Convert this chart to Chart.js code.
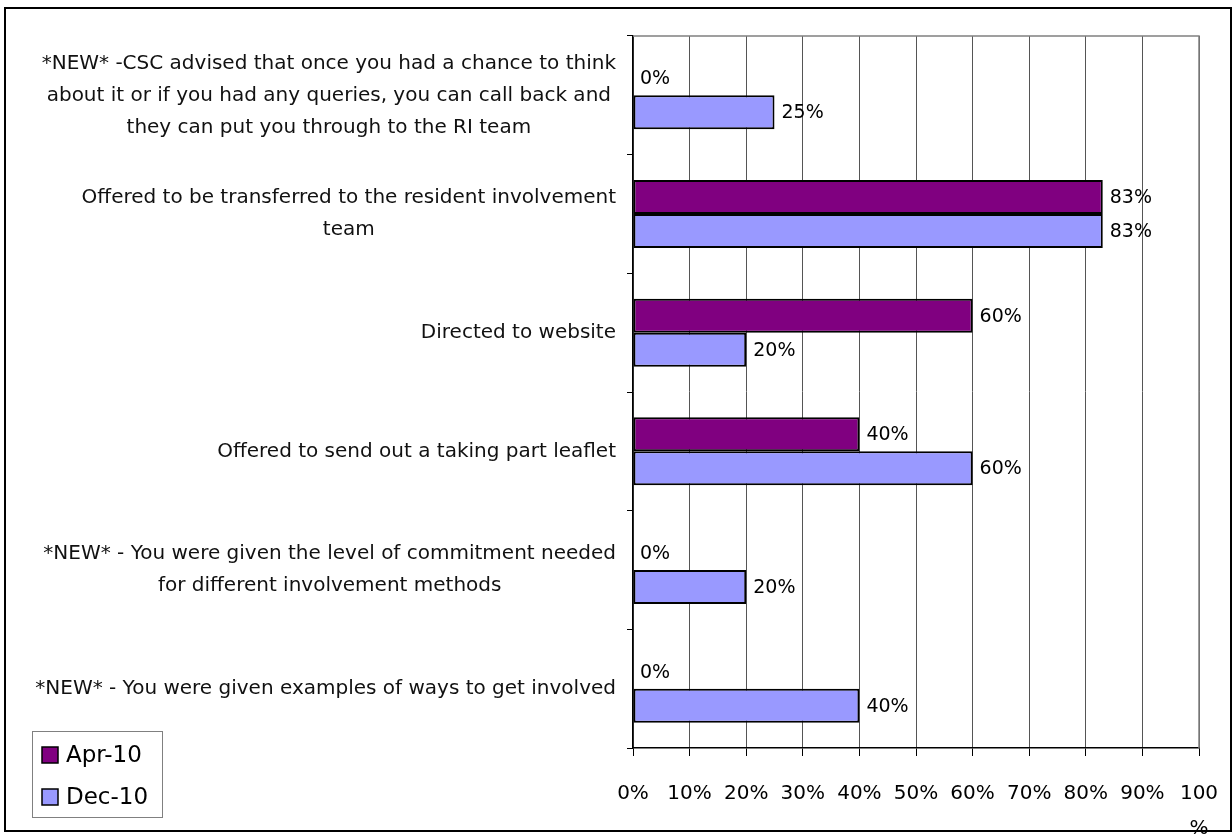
<!DOCTYPE html>
<html>
<head>
<meta charset="utf-8">
<script src="https://cdn.jsdelivr.net/npm/chart.js@4.4.1/dist/chart.umd.min.js"></script>
<style>
  html, body { margin: 0; padding: 0; background: #fff; }
  #wrap { width: 1232px; height: 836px; position: relative; }
</style>
</head>
<body>
<div id="wrap"><canvas id="riChart"></canvas></div>
<script>
var categoryLabels = [
  ['*NEW* -CSC advised that once you had a chance to think', 'about it or if you had any queries, you can call back and', 'they can put you through to the RI team'],
  ['Offered to be transferred to the resident involvement', 'team'],
  ['Directed to website'],
  ['Offered to send out a taking part leaflet'],
  ['*NEW* - You were given the level of commitment needed', 'for different involvement methods'],
  ['*NEW* - You were given examples of ways to get involved']
];
var seriesNames = ['Apr-10', 'Dec-10'];
var apr10Values = [0, 83, 60, 40, 0, 0];
var dec10Values = [25, 83, 20, 60, 20, 40];
var seriesColors = ['#800080', '#9999FF'];
var xTickStep = 10;

var FONT = '"DejaVu Sans", sans-serif';

// labels on the left: centred lines, block aligned right against the axis
var categoryLabelPlugin = {
  id: 'categoryLabels',
  afterDraw: function(chart) {
    var ctx = chart.ctx;
    var yScale = chart.scales.y;
    var rightEdge = 616;
    var lineGap = 32;
    ctx.save();
    ctx.font = '20px ' + FONT;
    ctx.fillStyle = '#111';
    ctx.textAlign = 'center';
    ctx.textBaseline = 'middle';
    categoryLabels.forEach(function(lines, i) {
      var cy = yScale.getPixelForValue(i);
      var blockWidth = 0;
      lines.forEach(function(line) {
        blockWidth = Math.max(blockWidth, ctx.measureText(line).width);
      });
      var cx = rightEdge - blockWidth / 2;
      var startY = cy - (lines.length - 1) * lineGap / 2;
      lines.forEach(function(line, j) {
        ctx.fillText(line, cx, startY + j * lineGap);
      });
    });
    ctx.restore();
  }
};

// value labels next to every bar end
var valueLabelPlugin = {
  id: 'valueLabels',
  afterDatasetsDraw: function(chart) {
    var ctx = chart.ctx;
    ctx.save();
    ctx.font = '19px ' + FONT;
    ctx.fillStyle = '#000';
    ctx.textAlign = 'left';
    ctx.textBaseline = 'middle';
    chart.data.datasets.forEach(function(dataset, d) {
      var meta = chart.getDatasetMeta(d);
      meta.data.forEach(function(bar, i) {
        ctx.fillText(dataset.data[i] + '%', bar.x + 7, bar.y + 1);
      });
    });
    ctx.restore();
  }
};

// plot frame, outer frame and boxed legend
var framePlugin = {
  id: 'frames',
  beforeDatasetsDraw: function(chart) {
    var ctx = chart.ctx;
    var area = chart.chartArea;
    ctx.save();
    ctx.strokeStyle = '#808080';
    ctx.lineWidth = 1.5;
    ctx.beginPath();
    ctx.moveTo(area.left, area.top);
    ctx.lineTo(area.right, area.top);
    ctx.lineTo(area.right, area.bottom);
    ctx.stroke();
    ctx.restore();
  },
  afterDraw: function(chart) {
    var ctx = chart.ctx;
    ctx.save();
    ctx.strokeStyle = '#000';
    ctx.lineWidth = 2;
    ctx.strokeRect(5, 8, 1226, 823);

    ctx.strokeStyle = '#808080';
    ctx.lineWidth = 1;
    ctx.strokeRect(32.5, 731.5, 130, 86);
    ctx.font = '23px ' + FONT;
    ctx.textAlign = 'left';
    ctx.textBaseline = 'middle';
    chart.data.datasets.forEach(function(dataset, d) {
      var y = 755 + d * 42;
      ctx.fillStyle = dataset.backgroundColor;
      ctx.fillRect(42, y - 8, 16, 16);
      ctx.strokeStyle = '#000';
      ctx.lineWidth = 1.5;
      ctx.strokeRect(42, y - 8, 16, 16);
      ctx.fillStyle = '#000';
      ctx.fillText(dataset.label, 66, y + 1);
    });
    ctx.restore();
  }
};

var ctx = document.getElementById('riChart').getContext('2d');
new Chart(ctx, {
  type: 'bar',
  data: {
    labels: categoryLabels.map(function(l) { return l.join(' '); }),
    datasets: [{
      label: seriesNames[0],
      data: apr10Values,
      backgroundColor: seriesColors[0],
      borderColor: '#000',
      borderWidth: 2,
      borderSkipped: false
    }, {
      label: seriesNames[1],
      data: dec10Values,
      backgroundColor: seriesColors[1],
      borderColor: '#000',
      borderWidth: 2,
      borderSkipped: false
    }]
  },
  options: {
    responsive: true,
    maintainAspectRatio: false,
    animation: false,
    indexAxis: 'y',
    categoryPercentage: 0.573,
    barPercentage: 1.0,
    layout: {
      padding: { top: 36, right: 33, bottom: 0, left: 0 }
    },
    plugins: {
      legend: { display: false },
      tooltip: { enabled: false }
    },
    scales: {
      x: {
        min: 0,
        max: 100,
        afterFit: function(scale) {
          scale.height = 88;
          scale.paddingLeft = 0;
          scale.paddingRight = 0;
        },
        border: { color: '#000', width: 1.5 },
        grid: {
          color: '#555',
          lineWidth: 1,
          tickLength: 8,
          tickColor: '#000'
        },
        ticks: {
          stepSize: xTickStep,
          padding: 20,
          color: '#000',
          font: { family: FONT, size: 20, lineHeight: 1.75 },
          maxRotation: 0,
          autoSkip: false,
          callback: function(value) {
            return value === 100 ? ['100', '%'] : value + '%';
          }
        }
      },
      y: {
        afterFit: function(scale) { scale.width = 633; },
        border: { color: '#000', width: 1.5 },
        grid: {
          drawOnChartArea: false,
          tickLength: 6,
          color: '#000'
        },
        ticks: {
          callback: function() { return ''; }
        }
      }
    }
  },
  plugins: [categoryLabelPlugin, valueLabelPlugin, framePlugin]
});
</script>
</body>
</html>
